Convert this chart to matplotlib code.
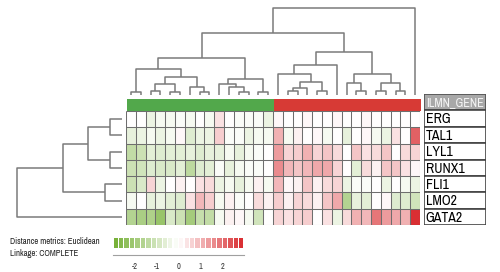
import numpy as np
import matplotlib
matplotlib.use('Agg')
import matplotlib.pyplot as plt
from matplotlib.colors import LinearSegmentedColormap, ListedColormap, Normalize
from matplotlib.patches import Rectangle

plt.rcParams['font.family'] = ['Archivo Narrow', 'Liberation Sans', 'DejaVu Sans']

# data
genes = ['ERG', 'TAL1', 'LYL1', 'RUNX1', 'FLI1', 'LMO2', 'GATA2']
expr = np.array([
    [0, 0, -0.4, -0.2, -0.2, -0.1, -0.2, 0, -0.2, 0.4, 0, -0.1, -0.1, -0.1, -0.4,
     0.1, 0, 0, 0.1, 0, 0, 0.1, 0, 0, 0.1, 0, 0, 0, 0, 0],
    [-0.5, -0.4, -0.2, -0.4, -0.2, 0.1, -0.7, -0.4, -0.4, 0.7, -0.1, -0.1, -0.4, -0.2, -0.2,
     1.1, -0.2, 0.2, 0, 0.1, -0.2, 0, -0.5, 0, 0.1, -0.2, -0.4, 0.4, 0, 2.2],
    [-1.3, -1.1, -0.6, -0.7, -0.6, -0.6, -0.5, -0.7, -0.5, -0.5, -0.2, -0.5, -0.2, -0.1, 0,
     1.4, 0.6, 0.7, 1.1, 0.6, 0.8, 0.5, 0, 0.8, 0.4, 0.5, 0.8, 0, 0.5, 0.6],
    [-1.1, -1.0, -0.7, -0.8, -0.8, -0.6, -1.4, -0.7, -0.6, -0.1, -0.5, -0.2, -0.1, -0.1, 0,
     1.6, 1.0, 0.8, 1.0, 1.2, 1.2, 0.6, 0, -0.6, 0.5, 0.2, 0.8, 0.8, 0.4, 0.1],
    [-1.1, -0.8, 0.6, -0.4, 0, 0.2, 0, 0.4, 0.5, -0.4, -0.2, -0.5, -0.2, 0.2, -0.2,
     1.0, 0.1, 0.2, 0.8, 0.2, 0.5, 0.6, -0.4, -0.1, -0.1, 0, -0.4, 0, -0.2, -0.4],
    [-0.2, 0, -0.5, -0.4, -0.6, -0.7, 0.4, 1.0, 0.7, -0.2, 0.2, -0.1, 0, 0.5, 0.2,
     0.7, 0.2, 0.6, 0.5, 0.2, 0.8, 1.2, -1.6, -0.5, -0.6, 0, 0.1, -0.7, -0.7, -1.0],
    [-1.6, -1.8, -1.7, -2.2, -0.8, -1.1, -1.9, -1.2, -1.3, -0.2, 0.2, 0.1, -0.2, -1.0, 0,
     0.6, 0.4, 0.6, 0.7, 0, 0.4, -0.4, 0.5, 1.1, 1.0, 1.9, 1.4, 1.2, 1.1, 2.9],
])
groups = [0] * 15 + [1] * 15

# merges: (child a, child b, height); new nodes numbered after the leaves
col_merges = [
    (0, 1, 3.3), (2, 3, 4.3), (4, 5, 3.0), (7, 8, 3.0), (6, 33, 7.7),
    (31, 32, 10.7), (35, 34, 17.7), (30, 36, 26.0), (11, 12, 3.0), (10, 38, 7.7),
    (9, 39, 10.7), (13, 14, 3.3), (40, 41, 15.7), (37, 42, 36.7), (16, 17, 4.0),
    (44, 18, 6.7), (19, 20, 4.0), (45, 46, 12.7), (15, 47, 20.7), (48, 21, 30.0),
    (23, 24, 4.0), (22, 50, 11.7), (25, 26, 4.0), (27, 28, 4.0), (52, 53, 11.7),
    (51, 54, 20.7), (49, 55, 43.3), (43, 56, 61.7), (57, 29, 86.7),
]
row_merges = [
    (0, 1, 12.0), (2, 3, 12.0), (7, 8, 33.7), (4, 5, 16.7), (9, 10, 59.3), (11, 6, 104.7),
]
cbar_ticks = [-2, -1, 0, 1, 2]

W, H = 500, 272
def box(x0, y0, x1, y1):
    return [x0 / W, 1 - y1 / H, (x1 - x0) / W, (y1 - y0) / H]

cmap = LinearSegmentedColormap.from_list('gwr', ['#72ae32', '#ffffff', '#d8282c'])
norm = Normalize(-3, 3)
line_c = '#7a7a7a'
grid_c = '#6e6e6e'

def dendro(ax, merges, n, side):
    pos = {i: float(i) for i in range(n)}
    hgt = {i: 0.0 for i in range(n)}
    for k, (a, b, h) in enumerate(merges):
        xs = [pos[a], pos[a], pos[b], pos[b]]
        hs = [hgt[a], h, h, hgt[b]]
        if side == 'top':
            ax.plot(xs, hs, color=line_c, lw=1.1, solid_capstyle='butt')
        else:
            ax.plot(hs, xs, color=line_c, lw=1.1, solid_capstyle='butt')
        pos[n + k] = (pos[a] + pos[b]) / 2
        hgt[n + k] = h
    ax.axis('off')

fig = plt.figure(figsize=(5, 2.72), dpi=100)

# column dendrogram
axc = fig.add_axes(box(126, 0, 420, 95))
dendro(axc, col_merges, 30, 'top')
axc.set_xlim(-0.5, 29.5)
axc.set_ylim(0, 95)

# row dendrogram
axr = fig.add_axes(box(0, 111, 122, 225))
dendro(axr, row_merges, 7, 'left')
axr.set_xlim(122, 0)
axr.set_ylim(6.5, -0.5)

# group bar
axg = fig.add_axes(box(127, 99, 421, 110.5))
axg.pcolormesh(np.array([groups]), cmap=ListedColormap(['#52a84b', '#d73a35']))
axg.axis('off')

# heatmap
axh = fig.add_axes(box(126, 111, 420, 225))
nr, nc = expr.shape
axh.pcolormesh(expr, cmap=cmap, norm=norm)
axh.vlines(np.arange(nc + 1), 0, nr, color=grid_c, lw=0.75)
axh.hlines(np.arange(nr + 1), 0, nc, color=grid_c, lw=0.75)
axh.set_xlim(0, nc)
axh.set_ylim(nr, 0)
axh.axis('off')

# gene label boxes
axl = fig.add_axes(box(424, 94, 486, 225))
axl.set_xlim(0, 1)
axl.set_ylim(7, -1)
axl.axis('off')
axl.add_patch(Rectangle((0, -1), 1, 1, facecolor='#a8a8a8', edgecolor='#555555', lw=1.3))
axl.text(0.03, -0.45, 'ILMN_GENE', color='#f4f4f4', fontsize=8.8, va='center', ha='left')
for i, g in enumerate(genes):
    axl.add_patch(Rectangle((0, i), 1, 1, facecolor='white', edgecolor='#444444', lw=1.2))
    axl.text(0.03, i + 0.55, g, color='black', fontsize=10, va='center', ha='left')

# colour scale
axk = fig.add_axes(box(113, 238, 244, 255))
edges = np.linspace(-3, 3, 25)
centers = (edges[:-1] + edges[1:]) / 2
axk.bar(centers, 0.56, width=0.2, bottom=0.44, color=cmap(norm(centers)))
axk.set_xlim(-3, 3)
axk.set_ylim(0, 1)
for s in ['top', 'left', 'right']:
    axk.spines[s].set_visible(False)
axk.spines['bottom'].set_color('#a0a0a0')
axk.spines['bottom'].set_linewidth(0.8)
axk.set_yticks([])
axk.set_xticks(cbar_ticks)
axk.set_xticklabels([str(t) for t in cbar_ticks])
axk.tick_params(axis='x', length=0, pad=5, labelsize=6, labelcolor='#333333')

fig.text(10 / W, 1 - 241 / H, 'Distance metrics: Euclidean', fontsize=6.3, va='center', color='#222222')
fig.text(10 / W, 1 - 254 / H, 'Linkage: COMPLETE', fontsize=6.3, va='center', color='#222222')

fig.savefig('out.png', dpi=100)
